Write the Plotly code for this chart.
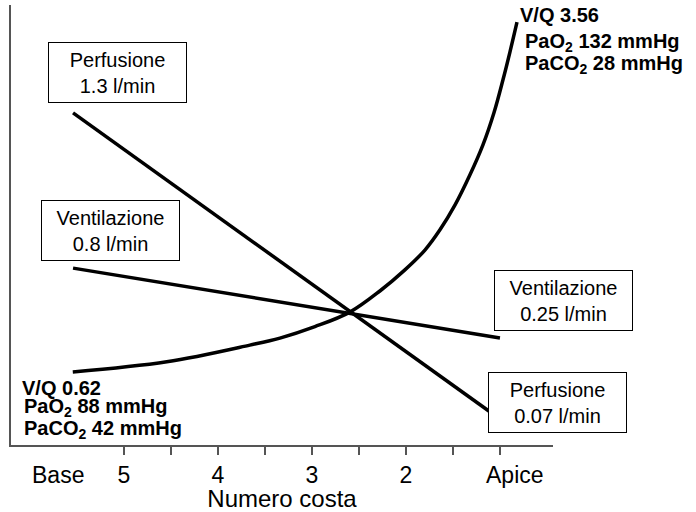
import plotly.graph_objects as go

FONT = "Liberation Sans, Arial, sans-serif"
INK = "#000000"
AXIS = "#555555"

# rib positions (5 = base ... 1 = apex), y in relative units
line_ribs = [5.54, 1.0]
perfusione = [75.5, 5.9]
ventilazione = [40.2, 24.3]

vq_ribs = [5.543, 4.543, 3.660, 3.340, 2.968, 2.596, 2.277, 2.011, 1.798, 1.638,
           1.479, 1.319, 1.181, 1.064, 0.968, 0.894, 0.819]
vq_vals = [16.6, 18.9, 22.7, 24.3, 26.9, 30.2, 35.0, 39.8, 44.3, 48.9,
           54.5, 61.4, 68.2, 75.5, 83.0, 89.3, 96.1]

tick_vals = [5, 4, 3, 2]
tick_text = ["5", "4", "3", "2"]
minor_vals = [4.5, 3.5, 2.5, 1.5, 1]

fig = go.Figure()
fig.add_trace(go.Scatter(x=line_ribs, y=perfusione, mode="lines", line=dict(color=INK, width=3.5)))
fig.add_trace(go.Scatter(x=line_ribs, y=ventilazione, mode="lines", line=dict(color=INK, width=3.5)))
fig.add_trace(go.Scatter(x=vq_ribs, y=vq_vals, mode="lines",
                         line=dict(color=INK, width=3.5, shape="spline", smoothing=1.0)))

# boxed labels
boxes = [
    ("Perfusione<br>1.3 l/min", 0.1956, 0.8477),
    ("Ventilazione<br>0.8 l/min", 0.1827, 0.4864),
    ("Ventilazione<br>0.25 l/min", 1.0185, 0.3295),
    ("Perfusione<br>0.07 l/min", 1.0074, 0.0977),
]
for text, px, py in boxes:
    fig.add_annotation(text=text, x=px, y=py, xref="paper", yref="paper", showarrow=False,
                       xanchor="center", yanchor="middle",
                       font=dict(family=FONT, size=20, color=INK), bordercolor=INK, borderwidth=1,
                       width=135, height=57, bgcolor="white")

# bold V/Q texts
vq_labels = [
    ("V/Q 0.62", 0.0166, 0.129),
    ("PaO<sub>2</sub> 88 mmHg", 0.0203, 0.0855),
    ("PaCO<sub>2</sub> 42 mmHg", 0.0203, 0.0341),
    ("V/Q 3.56", 0.935, 0.977),
    ("PaO<sub>2</sub> 132 mmHg", 0.945, 0.914),
    ("PaCO<sub>2</sub> 28 mmHg", 0.945, 0.864),
]
for text, px, py in vq_labels:
    fig.add_annotation(text="<b>" + text + "</b>", x=px, y=py, xref="paper", yref="paper",
                       xanchor="left", yanchor="middle", showarrow=False,
                       font=dict(family=FONT, size=20, color=INK))

# end labels under the axis
for text, rib in [("Base", 5.70), ("Apice", 0.84)]:
    fig.add_annotation(text=text, x=rib, y=0, xref="x", yref="paper", yanchor="top", yshift=-15,
                       showarrow=False, font=dict(family=FONT, size=23, color=INK))

fig.update_layout(
    width=696, height=512,
    paper_bgcolor="white", plot_bgcolor="white",
    margin=dict(l=11, r=143, t=5, b=67),
    showlegend=False,
    font=dict(family=FONT, color=INK),
    xaxis=dict(range=[6.20, 0.436], tickvals=tick_vals, ticktext=tick_text,
               ticks="outside", ticklen=8, tickwidth=1.5, tickcolor=AXIS,
               minor=dict(tickvals=minor_vals, ticks="outside", ticklen=8, tickwidth=1.5, tickcolor=AXIS),
               showline=True, linecolor=AXIS, linewidth=2, showgrid=False, zeroline=False,
               tickfont=dict(family=FONT, size=23, color=INK),
               title=dict(text="Numero costa", font=dict(family=FONT, size=24, color=INK), standoff=4)),
    yaxis=dict(range=[0, 100], showticklabels=False, ticks="", showline=True, linecolor=AXIS,
               linewidth=2, showgrid=False, zeroline=False),
)

# drop the browser's default body margin so the figure sits at the page corner
fig.write_html("out.html", config={"displayModeBar": False},
               post_script="document.body.style.margin='0';")
